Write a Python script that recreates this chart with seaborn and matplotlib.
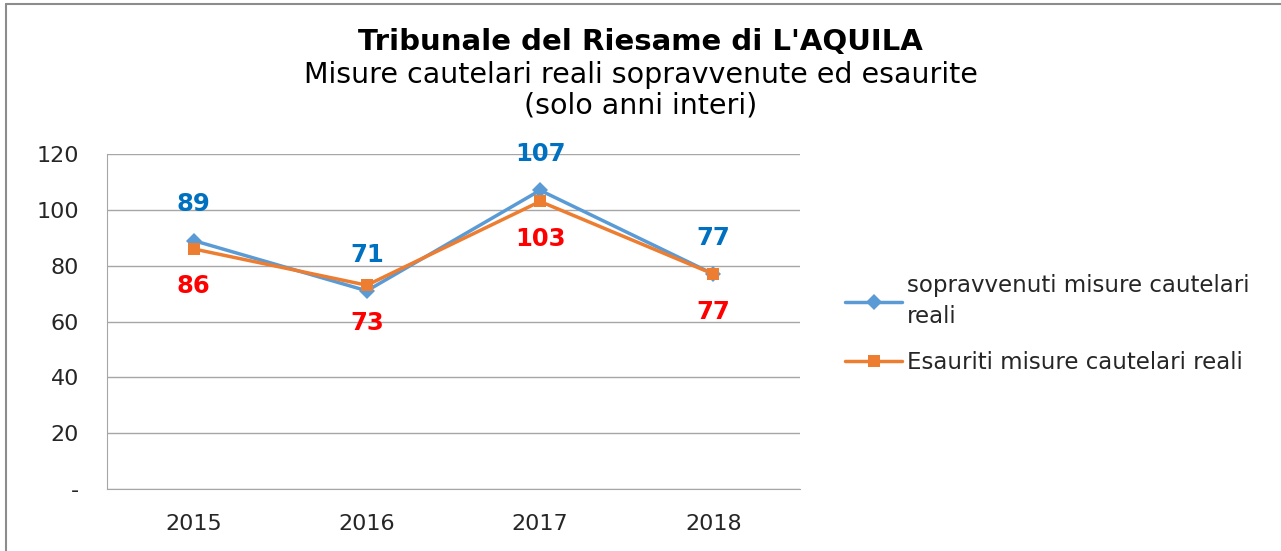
import numpy as np
import pandas as pd
import matplotlib
matplotlib.use("Agg")
import matplotlib.pyplot as plt
from matplotlib.lines import Line2D
import seaborn as sns

# ── Data ─────────────────────────────────────────────────────────────────────
years = ["2015", "2016", "2017", "2018"]
sopravvenuti = [89, 71, 107, 77]
esauriti = [86, 73, 103, 77]
series_names = ["sopravvenuti misure cautelari reali",
                "Esauriti misure cautelari reali"]
legend_labels = ["sopravvenuti misure cautelari\nreali",
                 "Esauriti misure cautelari reali"]
y_ticks = [0, 20, 40, 60, 80, 100, 120]
y_ticklabels = ["-", "20", "40", "60", "80", "100", "120"]

# ── Style ────────────────────────────────────────────────────────────────────
BLUE = "#5B9BD5"
ORANGE = "#ED7D31"
BLUE_TXT = "#0070C0"
RED_TXT = "#FF0000"
GRID = "#A6A6A6"
TXT = "#262626"

sns.set_style("white")
plt.rcParams["font.family"] = ["DejaVu Sans"]

df = pd.DataFrame({
    "anno": years * 2,
    "valore": sopravvenuti + esauriti,
    "serie": [series_names[0]] * 4 + [series_names[1]] * 4,
})

fig = plt.figure(figsize=(12.81, 5.51), dpi=100)
ax = fig.add_axes([0.0835, 0.1125, 0.541, 0.608])

sns.lineplot(data=df, x="anno", y="valore", hue="serie", style="serie",
             palette=[BLUE, ORANGE], markers=["D", "s"], dashes=False,
             linewidth=2.5, markersize=8, markeredgewidth=0, ax=ax,
             sort=False, legend=False)

ax.set_xlim(-0.5, 3.5)
ax.set_ylim(0, 120)
ax.set_yticks(y_ticks)
ax.set_yticklabels(y_ticklabels)
ax.set_xlabel("")
ax.set_ylabel("")
ax.yaxis.grid(True, color=GRID, linewidth=1)
ax.set_axisbelow(True)
for side in ["top", "right"]:
    ax.spines[side].set_visible(False)
ax.spines["left"].set_color(GRID)
ax.spines["bottom"].set_color(GRID)
ax.tick_params(axis="both", length=0, labelsize=16, colors=TXT)
ax.tick_params(axis="y", pad=20)
ax.tick_params(axis="x", pad=18)

# data labels
for i, (a, b) in enumerate(zip(sopravvenuti, esauriti)):
    ax.annotate(str(a), (i, a), xytext=(0, 26), textcoords="offset points",
                ha="center", va="center", fontsize=17.5, fontweight="bold",
                color=BLUE_TXT)
    ax.annotate(str(b), (i, b), xytext=(0, -27), textcoords="offset points",
                ha="center", va="center", fontsize=17.5, fontweight="bold",
                color=RED_TXT)

# legend
handles = [Line2D([], [], color=BLUE, lw=2.5, marker="D", markersize=8,
                  markeredgewidth=0),
           Line2D([], [], color=ORANGE, lw=2.5, marker="s", markersize=8,
                  markeredgewidth=0)]
leg = ax.legend(handles, legend_labels, loc="upper left",
                bbox_to_anchor=(0.6596, 0.503), bbox_transform=fig.transFigure,
                frameon=False, fontsize=16.5, handlelength=2.5,
                handletextpad=0.22, labelspacing=1.0, borderpad=0,
                borderaxespad=0, labelcolor=TXT)
for t in leg.get_texts():
    t.set_linespacing(1.45)

# titles
fig.text(0.5, 0.924, "Tribunale del Riesame di L'AQUILA", ha="center",
         va="center", fontsize=21, fontweight="bold", color="black")
fig.text(0.5, 0.864, "Misure cautelari reali sopravvenute ed esaurite",
         ha="center", va="center", fontsize=20.5, color="black")
fig.text(0.5, 0.809, "(solo anni interi)", ha="center", va="center",
         fontsize=20.5, color="black")

# chart frame (left and top edges visible)
fig.add_artist(Line2D([0.0047, 0.0047], [0, 0.9927], transform=fig.transFigure,
                      color="#8C8C8C", lw=1.5))
fig.add_artist(Line2D([0.0047, 1], [0.9927, 0.9927], transform=fig.transFigure,
                      color="#8C8C8C", lw=1.5))

fig.savefig("out.png", dpi=100, facecolor="white")
